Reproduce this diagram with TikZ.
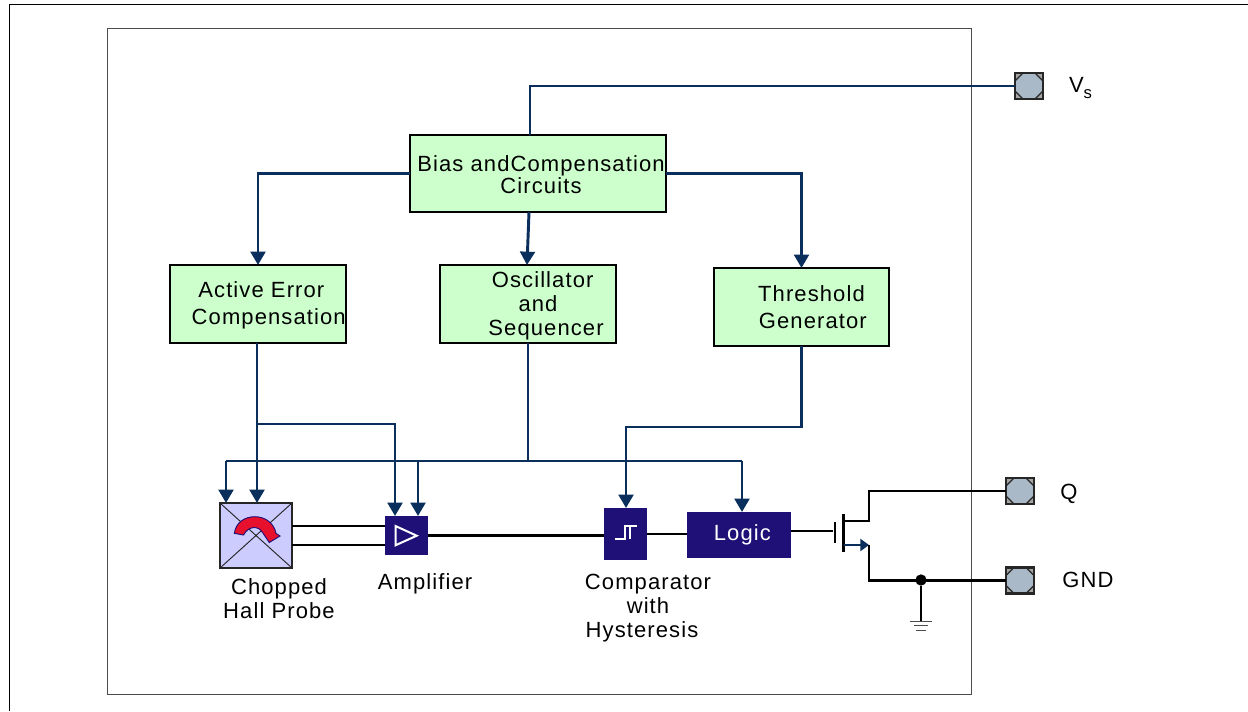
\documentclass[tikz,border=0pt]{standalone}
\usepackage{fontspec}
\setmainfont[LetterSpace=5]{Liberation Sans}
\usetikzlibrary{arrows.meta,calc}
\definecolor{wirenavy}{HTML}{0B2F5C}
\definecolor{boxgreen}{HTML}{CCFFCC}
\definecolor{blockindigo}{HTML}{1F1077}
\definecolor{probeblue}{HTML}{CCCCFF}
\definecolor{padgrey}{HTML}{A9B9C7}
\definecolor{arrowred}{HTML}{E8112D}
\newcommand{\off}[2]{\hspace*{#1pt}#2}
\tikzset{
  x=0.75pt,y=-0.75pt,
  every node/.style={inner sep=0pt,outer sep=0pt,font=\fontsize{16.5}{18}\selectfont,align=center},
  greenbox/.style={draw=black,line width=1.3pt,fill=boxgreen},
  indigobox/.style={fill=blockindigo,text=white},
  lab/.style={text=black},
  padbox/.style={draw=black!85,line width=1.7pt,fill=black!35,minimum width=21pt,minimum height=19.5pt,
    path picture={
      \path (path picture bounding box.north west) coordinate (pa) (path picture bounding box.south east) coordinate (pb);
      \filldraw[fill=padgrey,draw=black!85,line width=1pt]
        ($(pa)+(6pt,0pt)$) -- ($(pb|-pa)+(-6pt,0pt)$) -- ($(pb|-pa)+(0pt,-6pt)$) -- ($(pb)+(0pt,6pt)$)
        -- ($(pb)+(-6pt,0pt)$) -- ($(pa|-pb)+(6pt,0pt)$) -- ($(pa|-pb)+(0pt,6pt)$) -- ($(pa)+(0pt,-6pt)$) -- cycle;
    }},
  navy/.style={draw=wirenavy,line width=2.2pt},
  navyarrow/.style={navy,-{Triangle[length=10pt,width=11pt]}},
  blk/.style={draw=black,line width=2pt},
  whiteline/.style={draw=white,line width=1.5pt},
}
\begin{document}
\begin{tikzpicture}
\useasboundingbox[fill=white] (0,0) rectangle (1248,711);
% frames
\draw[black,line width=0.6pt] (9,711) -- (9,4) -- (1248,4);
\draw[black!70,line width=0.7pt] (107,28) rectangle (971,694);

% blocks
\node[greenbox,minimum width=192pt,minimum height=57.75pt] (bias) at (538,173.5)
  {\off{4.5}{\rule{0pt}{14pt}Bias andCompensation}\\[-1.5pt]\off{4.5}{Circuits}};
\node[greenbox,minimum width=132pt,minimum height=58.5pt] (aec) at (258,304)
  {\off{5}{\rule{0pt}{14pt}Active Error}\\[2pt]\off{16}{Compensation}};
\node[greenbox,minimum width=132pt,minimum height=58.5pt] (osc) at (528,304)
  {\off{22}{\rule{0pt}{15pt}Oscillator}\\\off{15}{and}\\\off{27}{Sequencer}};
\node[greenbox,minimum width=131pt,minimum height=58.5pt] (thr) at (801.5,307)
  {\off{15}{Threshold}\\[2pt]\off{17}{Generator}};
\node[draw=black!85,line width=1.2pt,fill=probeblue,minimum width=54pt,minimum height=48.75pt] (hall) at (256,535.5) {};
\node[indigobox,minimum width=32.25pt,minimum height=29.25pt] (amp) at (406.5,535.5) {};
\node[indigobox,minimum width=32.25pt,minimum height=39pt] (comp) at (625.5,534) {};
\node[indigobox,minimum width=78pt,minimum height=34.5pt] (logic) at (739,535) {\off{5}{Logic}};

% pads
\node[padbox] (vs) at (1029,86) {};
\node[padbox] (q) at (1020,491) {};
\node[padbox] (gnd) at (1020,580.5) {};

% labels
\node[lab] (vslab) at (1080.5,88) {V\raisebox{-4pt}{\fontsize{12.5}{14}\selectfont s}};
\node[lab] (qlab) at (1069,493.5) {Q};
\node[lab] (gndlab) at (1088,580) {GND};
\node[lab] (halllab) at (279,599) {Chopped\\Hall Probe};
\node[lab] (amplab) at (425,584) {Amplifier};
\node[lab] (complab) at (648,608.5) {Comparator\\with\\\off{-9}{Hysteresis}};

% probe drawing
\draw[black!85,line width=0.7pt] (hall.north west) -- (hall.south east) (hall.north east) -- (hall.south west);
\filldraw[fill=arrowred,draw=blockindigo,line width=0.7pt]
  (234.3,533.3) .. controls (236,522) and (245,516.7) .. (255,516.7)
  .. controls (265,516.7) and (274,523) .. (276,533.3)
  -- (280,536) -- (269.3,542.5) -- (262.5,532.5)
  .. controls (259,526) and (249,525) .. (243.5,535) -- cycle;

% amplifier and comparator symbols
\draw[whiteline] (395.5,526) -- (416.7,535.7) -- (395.5,545.3) -- cycle;
\draw[whiteline] (614.5,538.5) -- (625,538.5) -- (625,525.5) -- (636.5,525.5) (630,525.5) -- (630,538.5);

% junctions
\coordinate (feed) at (257,424);
\coordinate (bus) at (528,461);
\coordinate (busleft) at (226,461);
\coordinate (busamp) at (418,461);
\coordinate (busright) at (742,461);
\coordinate (errin) at (395,424);
\coordinate (thrturn) at (626,427);
\coordinate (biasdown) at (530,135);
\coordinate (biasout) at (529,212);
\coordinate (oscin) at (527,265);

% navy wiring
\draw[navy] (vs.west) -| (biasdown);
\draw[navyarrow] (bias.west) -| (aec.north);
\draw[navyarrow] (biasout) -- (oscin);
\draw[navyarrow] (bias.east) -| (thr.north);
\draw[navyarrow] (aec.south -| feed) -- (feed |- hall.north);
\draw[navyarrow] (feed) -- (errin) -- (errin |- amp.north);
\draw[navy] (osc.south) -- (bus);
\draw[navyarrow] (busright) -- (busright |- logic.north);
\draw[navyarrow] (busleft) -- (busleft |- hall.north);
\draw[navy] (busleft) -- (busright);
\draw[navyarrow] (busamp) -- (busamp |- amp.north);
\draw[navyarrow] (thr.south) |- (thrturn) -- (thrturn |- comp.north);

% signal path
\draw[blk] (hall.east |- 0,526) -- (amp.west |- 0,526);
\draw[blk] (hall.east |- 0,545) -- (amp.west |- 0,545);
\draw[blk] (amp.east) -- (comp.west |- amp.east);
\draw[blk] (comp.east) -- (logic.west |- comp.east);

% output transistor
\coordinate (gate) at (833,531);
\coordinate (drain) at (843.5,521);
\coordinate (source) at (843.5,545);
\coordinate (drainup) at (869,521);
\coordinate (sourcedown) at (869,545);
\draw[blk] (logic.east |- gate) -- (gate);
\draw[draw=black,line width=2.1pt] (835,522) -- (835,543);
\draw[draw=black,line width=2.1pt] (843.5,514) -- (843.5,552);
\draw[blk] (drain) -- (drainup) |- (q.west);
\draw[draw=wirenavy,line width=1.8pt,-{Triangle[length=6.5pt,width=9pt]}] (source) -- (sourcedown);
\node[circle,fill=black,minimum size=8.5pt] (dot) at (921,580) {};
\draw[blk] (sourcedown) |- (gnd.west);
\coordinate (earth) at (921,621);
\draw[blk] (dot) -- (earth);
\draw[draw=black!70,line width=0.7pt] (910,621) -- (932,621) (914,625.5) -- (928,625.5) (916,630) -- (926,630);
\end{tikzpicture}
\end{document}
